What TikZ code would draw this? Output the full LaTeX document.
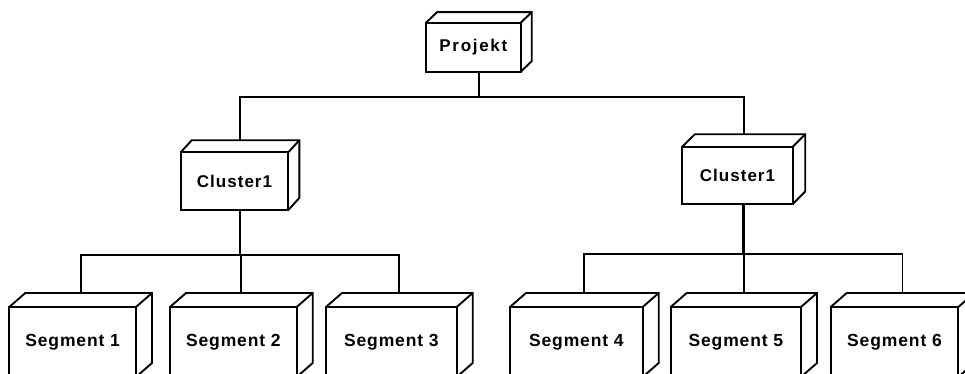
\documentclass[tikz,border=0pt]{standalone}
\usepackage{fontspec}
\setmainfont{Liberation Sans}[LetterSpace=6]
\usetikzlibrary{calc}
\tikzset{
  face/.style={draw, rectangle, line width=1.9pt, inner sep=0pt, outer sep=0pt,
    font=\fontsize{17}{20}\selectfont\bfseries},
  segbox/.style={face, minimum height=70pt,
    font=\fontsize{17.5}{20}\selectfont\bfseries\addfontfeature{LetterSpace=5}},
  wire/.style={line width=1.9pt},
  heavywire/.style={line width=2.6pt},
}
% back faces of a box node: #1 node name, #2 depth right, #3 depth up
\newcommand\cubedepth[3]{%
  \draw[wire] (#1.north west) -- ++(#2,-#3) -| ($(#1.south east)+(#2,-#3)$) -- (#1.south east);
  \draw[wire] (#1.north east) -- ++(#2,-#3);
  \coordinate (#1-top) at ($(#1.north)+(#2/2,-#3)$);
  \coordinate (#1-bot) at ($(#1.south)+(#2/2,0)$);
}
\begin{document}
\begin{tikzpicture}[x=1pt,y=-1pt]
\useasboundingbox (0,0) rectangle (965,374);
\clip (0,0) rectangle (965,374);

% project
\node[face, minimum width=94.7pt, minimum height=49pt] (p) at (473.35,47.2)
  {\addfontfeature{LetterSpace=10}Projekt};
\cubedepth{p}{11}{10.5}

% clusters
\node[face, minimum width=107.6pt, minimum height=57.7pt] (cl) at (234.5,181.15) {Cluster1};
\cubedepth{cl}{11}{12}
\node[face, minimum width=110.4pt, minimum height=57.3pt] (cr) at (737.5,175.35) {Cluster1};
\cubedepth{cr}{12.5}{12.4}

% segments
\node[segbox, minimum width=126.7pt] (s1) at (72.65,342) {Segment 1};
\node[segbox, minimum width=126.7pt] (s2) at (233.35,342) {Segment 2};
\node[segbox, minimum width=130.7pt] (s3) at (391.35,342) {Segment 3};
\node[segbox, minimum width=132.7pt] (s4) at (576.35,342) {Segment 4};
\node[segbox, minimum width=130.3pt] (s5) at (735.85,342) {Segment 5};
\node[segbox, minimum width=127.6pt] (s6) at (894.5,342) {Segment 6};
\foreach \s in {s1,s2,s3,s4,s5,s6} {\cubedepth{\s}{16}{14}}

% project to clusters
\coordinate (busA) at ($(p-bot)+(0,25)$);
\draw[wire] (p-bot) -- (busA);
\draw[wire] (cl-top) |- (busA) -| (cr-top);

% left cluster to segments 1-3
\coordinate (busL) at ($(cl-bot)+(0,45)$);
\draw[wire] (cl-bot) -- (busL);
\draw[wire] (s1-top) |- (busL) -| (s3-top);
\draw[wire] (s2-top) -- (s2-top |- busL);

% right cluster to segments 4-6
\coordinate (busR) at ($(cr-bot)+(0,50)$);
\draw[heavywire] (cr-bot) -- (busR);
\draw[wire] (s4-top) |- (busR) -| (s6-top);
\draw[wire] (s5-top) -- (s5-top |- busR);
\end{tikzpicture}
\end{document}
